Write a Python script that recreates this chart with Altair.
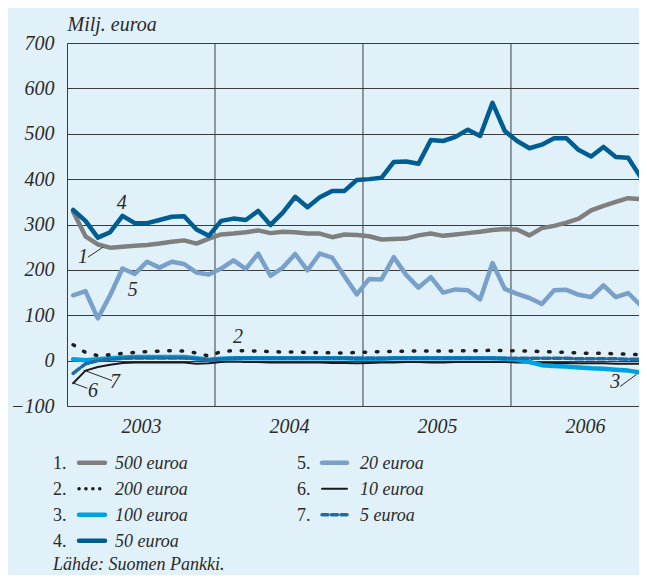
import altair as alt
import pandas as pd

# ---------------- data ----------------
months = list(range(48))          # Jan 2003 .. Dec 2006
years = ["2003", "2004", "2005", "2006"]
series_names = ["500 euroa", "200 euroa", "100 euroa", "50 euroa",
                "20 euroa", "10 euroa", "5 euroa"]

eur500 = [328, 274, 256, 249, 251, 253, 255, 258, 262, 265, 258, 269,
          278, 280, 283, 287, 281, 284, 283, 280, 280, 272, 278, 277,
          274, 267, 268, 269, 276, 280, 275, 278, 281, 284, 288, 290,
          289, 276, 292, 297, 304, 313, 331, 341, 350, 358, 356, 375]
eur200 = [35, 18, 11, 13, 16, 18, 20, 21, 22, 21, 17, 10,
          20, 22, 22, 21, 20, 19, 19, 18, 18, 17, 17, 18,
          19, 20, 20, 21, 21, 21, 21, 21, 22, 22, 23, 22,
          22, 21, 20, 19, 18, 17, 16, 16, 15, 14, 13, 13]
eur100 = [3, 1, 3, 5, 7, 8, 8, 8, 8, 8, 5, 2,
          4, 5, 5, 5, 5, 5, 5, 5, 5, 5, 5, 4,
          4, 4, 5, 5, 5, 5, 5, 5, 5, 5, 5, 4,
          2, -3, -10, -12, -13, -15, -17, -18, -20, -22, -26, -7]
eur50 = [332, 308, 271, 283, 319, 303, 303, 310, 317, 318, 289, 275,
         308, 313, 310, 330, 299, 326, 361, 338, 360, 374, 374, 398,
         400, 403, 438, 439, 434, 486, 484, 493, 509, 495, 568, 506,
         484, 468, 476, 490, 490, 464, 450, 471, 449, 447, 405, 480]
eur20 = [144, 153, 93, 144, 203, 191, 218, 205, 218, 213, 194, 190,
         203, 221, 202, 236, 187, 205, 235, 199, 236, 227, 186, 146,
         180, 179, 228, 189, 161, 184, 150, 157, 155, 135, 215, 158,
         147, 138, 125, 155, 156, 145, 140, 166, 140, 149, 122, 215]
eur10 = [-50, -22, -14, -9, -5, -4, -4, -4, -4, -4, -7, -6,
         -3, -2, -3, -3, -4, -4, -4, -4, -4, -5, -5, -6,
         -5, -4, -4, -3, -3, -4, -4, -3, -3, -3, -3, -3,
         -4, -4, -5, -5, -5, -6, -6, -6, -7, -7, -7, -7]
eur5 = [-28, -7, 0, 3, 5, 6, 6, 6, 6, 6, 4, 1,
        4, 5, 5, 5, 5, 5, 5, 5, 5, 5, 5, 5,
        5, 5, 5, 5, 5, 5, 5, 5, 5, 5, 5, 5,
        5, 5, 5, 5, 5, 4, 4, 4, 4, 3, 3, 3]

values = dict(zip(series_names, [eur500, eur200, eur100, eur50, eur20, eur10, eur5]))

ann_labels = ["1", "2", "3", "4", "5", "6", "7"]
ann_t = [1.30, 13.86, 44.45, 4.44, 5.33, 2.11, 3.89]
ann_v = [228, 52, -47, 347, 155, -67, -47]

leader_t = [1.70, 44.85, 0.46, 1.35]
leader_v = [228, -57, -49, -21]
leader_t2 = [2.92, 46.2, 1.65, 3.65]
leader_v2 = [250, -30, -61, -44]

source_text = "Lähde: Suomen Pankki."
unit_text = "Milj. euroa"

# ---------------- styles ----------------
BG = "#E1F1FA"
FONT = "Liberation Serif"
INK = "#2a2a2a"
GRID = "#3c3c3c"

styles = {
    "500 euroa": dict(color="#7F7F7F", strokeWidth=4.5),
    "200 euroa": dict(color="#1e1e1e", strokeWidth=3.5, strokeDash=[1.5, 10.8]),
    "100 euroa": dict(color="#00A0E1", strokeWidth=4.5),
    "50 euroa": dict(color="#005D91", strokeWidth=4.5),
    "20 euroa": dict(color="#78A0C8", strokeWidth=4.5),
    "10 euroa": dict(color="#1a1a1a", strokeWidth=2),
    "5 euroa": dict(color="#1E6CA5", strokeWidth=3.5, strokeDash=[8, 3]),
}
legend_styles = dict(styles)
legend_styles["200 euroa"] = dict(color="#1e1e1e", strokeWidth=3.5, strokeDash=[0.1, 6.8])
legend_styles["5 euroa"] = dict(color="#1E6CA5", strokeWidth=3.5, strokeDash=[6, 3.5])

draw_order = ["20 euroa", "500 euroa", "50 euroa", "10 euroa", "100 euroa", "5 euroa", "200 euroa"]

MONTH_PX = 580 / 47.03          # pixels per month
LEFT, TOP = 67, 43
W, H = 631 - (LEFT - 8), 363     # whole chart must fit in 631 px of page width
X_MAX = W / MONTH_PX


def tx(px):
    return (px - LEFT) / MONTH_PX


def vy(py):
    return (TOP + H - py) / H * 800 - 100


xscale = alt.Scale(domain=[0, X_MAX], nice=False, zero=False)
yscale = alt.Scale(domain=[-100, 700], nice=False, zero=False)

year_expr = "[" + ",".join("'%s'" % y for y in years) + "][floor(datum.value / 12)]"

X = alt.X("t:Q", scale=xscale,
          axis=alt.Axis(values=[6, 18, 30, 42], labelExpr=year_expr, grid=False,
                        ticks=False, domain=True, domainColor=GRID, domainWidth=1,
                        labelFont=FONT, labelFontStyle="italic", labelFontSize=20,
                        labelColor=INK, labelBaseline="alphabetic", labelPadding=26,
                        title=None))
Y = alt.Y("v:Q", scale=yscale,
          axis=alt.Axis(values=list(range(-100, 701, 100)), grid=True, gridColor=GRID,
                        gridWidth=1, ticks=False, domain=True, domainColor=GRID,
                        labelFont=FONT, labelFontStyle="italic", labelFontSize=20,
                        labelColor=INK, labelPadding=13,
                        title=unit_text, titleAngle=0, titleAlign="left",
                        titleBaseline="alphabetic", titleX=0, titleY=-13,
                        titleFont=FONT, titleFontStyle="italic", titleFontWeight="normal",
                        titleFontSize=20, titleColor=INK))
Xp = alt.X("t:Q", scale=xscale)
Yp = alt.Y("v:Q", scale=yscale)

layers = []

# year boundary lines
year_lines = pd.DataFrame({"t": [12 * i for i in range(1, len(years))]})
layers.append(alt.Chart(year_lines).mark_rule(color=GRID, strokeWidth=1).encode(x=X))

# series
for name in draw_order:
    df = pd.DataFrame({"t": [m + 0.5 for m in months], "v": values[name]})
    layers.append(alt.Chart(df).mark_line(clip=True, strokeCap="round", strokeJoin="round",
                                          **styles[name]).encode(x=Xp, y=Y))

# annotation leaders and numbers
lead = pd.DataFrame({"t": leader_t, "v": leader_v, "t2": leader_t2, "v2": leader_v2})
layers.append(alt.Chart(lead).mark_rule(color=INK, strokeWidth=1).encode(
    x=Xp, y=Yp, x2="t2:Q", y2="v2:Q"))
ann = pd.DataFrame({"t": ann_t, "v": ann_v, "label": ann_labels})
layers.append(alt.Chart(ann).mark_text(font=FONT, fontStyle="italic", fontSize=20, color=INK,
                                       align="center", baseline="middle").encode(
    x=Xp, y=Yp, text="label:N"))

# custom legend below the plot
col_num_px = [53, 297]
col_sw0_px = [79, 322]
col_sw1_px = [105, 347]
col_txt_px = [115, 360]
row0_px, row_step = 462.7, 26.0
num_rows = []
for i, name in enumerate(series_names):
    c, r = i // 4, i % 4
    yc = row0_px + r * row_step
    sw = pd.DataFrame({"t": [tx(col_sw0_px[c])], "t2": [tx(col_sw1_px[c])], "v": [vy(yc)]})
    layers.append(alt.Chart(sw).mark_rule(strokeCap="round", **legend_styles[name]).encode(
        x=Xp, x2="t2:Q", y=Yp))
    num_rows.append({"t": tx(col_num_px[c]), "v": vy(yc + 6.2), "label": "%d." % (i + 1)})
    num_rows.append({"t": tx(col_txt_px[c]), "v": vy(yc + 6.2), "label": name})

leg = pd.DataFrame(num_rows)
layers.append(alt.Chart(leg[leg["label"].str.endswith(".")]).mark_text(
    font=FONT, fontSize=18, color=INK, align="left", baseline="alphabetic").encode(
    x=Xp, y=Yp, text="label:N"))
layers.append(alt.Chart(leg[~leg["label"].str.endswith(".")]).mark_text(
    font=FONT, fontStyle="italic", fontSize=18, color=INK, align="left",
    baseline="alphabetic").encode(x=Xp, y=Yp, text="label:N"))

src = pd.DataFrame({"t": [tx(53)], "v": [vy(570)], "label": [source_text]})
layers.append(alt.Chart(src).mark_text(
    font=FONT, fontStyle="italic", fontSize=18, color=INK, align="left",
    baseline="alphabetic").encode(x=Xp, y=Yp, text="label:N"))

chart = alt.layer(*layers).properties(
    width=W, height=H,
    autosize=alt.AutoSizeParams(type="none"),
    padding={"left": LEFT - 8, "top": TOP - 8, "right": 0, "bottom": 567 - (TOP - 8) - H},
    background=BG,
).configure_view(stroke=None)

chart.save("out.html", embed_options={"renderer": "svg", "actions": False})
